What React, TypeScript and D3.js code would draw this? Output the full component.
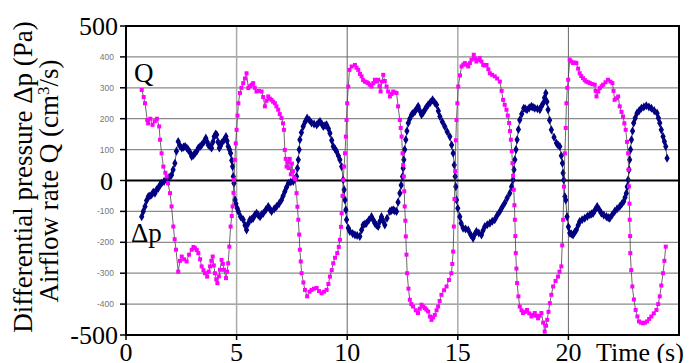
import React from 'react'
import * as d3 from 'd3'

// time (s), value
const qSeries: [number, number][] = [
  [0.71, 293], [0.8, 270], [0.86, 250], [0.96, 196], [1.0, 185], [1.1, 200], [1.2, 180], [1.3, 192], [1.4, 200], [1.5, 175],
  [1.54, 132], [1.61, 88], [1.69, 45], [1.78, 25], [1.84, 13], [1.9, -9], [1.99, -41], [2.06, -84], [2.14, -149], [2.2, -190],
  [2.26, -224], [2.36, -295], [2.44, -260], [2.52, -246], [2.63, -255], [2.74, -262], [2.85, -240], [2.97, -224], [3.05, -215],
  [3.12, -219], [3.2, -225], [3.27, -235], [3.35, -255], [3.42, -278], [3.5, -290], [3.57, -300], [3.67, -311], [3.74, -295],
  [3.8, -278], [3.86, -260], [3.92, -246], [3.97, -275], [4.02, -300], [4.08, -320], [4.13, -332], [4.2, -310], [4.25, -289],
  [4.32, -257], [4.38, -270], [4.43, -289], [4.52, -316], [4.57, -295], [4.62, -268], [4.67, -214], [4.73, -149], [4.78, -115],
  [4.82, -84], [4.86, -40], [4.88, 2], [4.92, 67], [4.96, 120], [5.0, 164], [5.04, 210], [5.08, 250], [5.15, 283], [5.22, 300],
  [5.3, 315], [5.38, 330], [5.45, 347], [5.53, 299], [5.6, 305], [5.68, 310], [5.75, 315], [5.82, 300], [5.9, 288], [6.0, 290],
  [6.13, 288], [6.2, 270], [6.28, 240], [6.35, 258], [6.43, 272], [6.5, 265], [6.58, 261], [6.65, 255], [6.73, 250], [6.8, 240],
  [6.88, 229], [6.95, 215], [7.03, 202], [7.1, 185], [7.14, 164], [7.18, 99], [7.22, 70], [7.26, 45], [7.3, 60], [7.35, 40],
  [7.4, 70], [7.45, 20], [7.5, 55], [7.55, 30], [7.6, 10], [7.65, 5], [7.71, -41], [7.75, -85], [7.79, -127], [7.83, -175],
  [7.86, -224], [7.9, -262], [7.94, -300], [8.02, -330], [8.09, -354], [8.19, -375], [8.3, -360], [8.39, -354], [8.5, -350],
  [8.62, -348], [8.73, -358], [8.84, -365], [8.95, -360], [9.07, -354], [9.15, -335], [9.22, -311], [9.3, -290], [9.37, -268],
  [9.45, -250], [9.55, -235], [9.62, -215], [9.67, -192], [9.72, -150], [9.75, -106], [9.79, -50], [9.82, 2], [9.86, 45],
  [9.9, 88], [9.94, 142], [9.97, 196], [10.0, 250], [10.05, 304], [10.1, 358], [10.2, 369], [10.35, 374], [10.42, 365],
  [10.5, 358], [10.58, 345], [10.65, 337], [10.72, 325], [10.8, 320], [10.88, 318], [10.95, 315], [11.02, 310], [11.1, 304],
  [11.18, 315], [11.25, 326], [11.32, 320], [11.4, 326], [11.46, 305], [11.51, 288], [11.57, 320], [11.63, 342], [11.7, 322],
  [11.78, 304], [11.85, 288], [11.93, 272], [12.0, 280], [12.08, 288], [12.15, 285], [12.23, 283], [12.3, 240], [12.38, 196],
  [12.42, 170], [12.46, 142], [12.5, 88], [12.53, 50], [12.56, 13], [12.58, -35], [12.6, -84], [12.63, -130], [12.65, -181],
  [12.68, -240], [12.71, -300], [12.77, -350], [12.83, -386], [12.9, -400], [12.98, -408], [13.1, -420], [13.2, -429],
  [13.28, -415], [13.36, -402], [13.44, -408], [13.51, -413], [13.58, -418], [13.66, -424], [13.74, -440], [13.81, -451],
  [13.88, -443], [13.96, -435], [14.04, -420], [14.11, -408], [14.18, -390], [14.26, -370], [14.38, -355], [14.49, -343],
  [14.6, -322], [14.71, -300], [14.75, -270], [14.79, -230], [14.82, -149], [14.85, -60], [14.88, 30], [14.91, 130],
  [14.94, 196], [14.98, 250], [15.02, 304], [15.1, 340], [15.17, 369], [15.25, 375], [15.32, 380], [15.4, 375], [15.47, 369],
  [15.55, 380], [15.62, 391], [15.72, 407], [15.78, 395], [15.84, 385], [15.92, 390], [15.99, 396], [16.07, 385], [16.15, 374],
  [16.22, 372], [16.3, 374], [16.38, 360], [16.45, 347], [16.55, 342], [16.67, 337], [16.78, 330], [16.9, 320], [16.98, 290],
  [17.05, 261], [17.12, 245], [17.2, 229], [17.26, 210], [17.32, 186], [17.36, 160], [17.4, 132], [17.44, 95], [17.47, 56],
  [17.5, 15], [17.53, -30], [17.56, -80], [17.58, -127], [17.6, -180], [17.62, -235], [17.65, -285], [17.68, -332],
  [17.74, -375], [17.8, -408], [17.88, -420], [17.95, -429], [18.05, -425], [18.13, -419], [18.23, -430], [18.33, -440],
  [18.4, -435], [18.48, -429], [18.55, -438], [18.63, -446], [18.7, -438], [18.78, -429], [18.86, -460], [18.93, -489],
  [18.99, -470], [19.04, -451], [19.1, -425], [19.16, -397], [19.23, -370], [19.31, -343], [19.42, -325], [19.53, -311],
  [19.6, -295], [19.68, -278], [19.72, -210], [19.76, -127], [19.8, -20], [19.84, 88], [19.88, 170], [19.91, 250],
  [19.95, 300], [19.99, 326], [20.06, 391], [20.13, 385], [20.21, 380], [20.28, 382], [20.36, 380], [20.44, 362], [20.51, 347],
  [20.58, 338], [20.66, 331], [20.74, 325], [20.81, 320], [20.9, 318], [20.97, 315], [21.08, 312], [21.19, 310], [21.23, 290],
  [21.27, 272], [21.35, 288], [21.42, 299], [21.5, 305], [21.57, 310], [21.68, 318], [21.79, 326], [21.9, 320], [21.99, 315],
  [22.04, 290], [22.09, 261], [22.17, 266], [22.25, 272], [22.32, 240], [22.4, 222], [22.47, 207], [22.53, 185], [22.59, 164],
  [22.65, 125], [22.7, 88], [22.72, 35], [22.74, -19], [22.76, -75], [22.77, -127], [22.79, -180], [22.8, -235], [22.84, -290],
  [22.89, -343], [22.96, -385], [23.04, -419], [23.12, -440], [23.19, -456], [23.28, -460], [23.37, -462], [23.46, -460],
  [23.56, -456], [23.65, -448], [23.75, -440], [23.86, -430], [23.98, -419], [24.06, -400], [24.13, -375], [24.2, -340],
  [24.28, -300], [24.34, -260], [24.4, -214],
]

const dpSeries: [number, number][] = [
  [0.71, -117], [0.78, -100], [0.86, -84], [0.93, -65], [1.01, -52], [1.08, -50], [1.16, -46], [1.23, -38], [1.31, -41],
  [1.38, -30], [1.46, -25], [1.53, -15], [1.61, -9], [1.72, -3], [1.84, 2], [1.95, 10], [2.06, 18], [2.13, 35], [2.21, 56],
  [2.28, 95], [2.36, 126], [2.44, 112], [2.52, 105], [2.6, 108], [2.67, 110], [2.75, 105], [2.82, 99], [2.9, 90], [2.97, 78],
  [3.05, 82], [3.12, 88], [3.2, 95], [3.27, 105], [3.35, 110], [3.42, 115], [3.52, 125], [3.61, 137], [3.67, 125], [3.72, 115],
  [3.8, 110], [3.87, 105], [3.93, 125], [3.99, 142], [4.05, 150], [4.1, 148], [4.16, 125], [4.22, 105], [4.27, 112],
  [4.32, 121], [4.42, 130], [4.52, 142], [4.57, 128], [4.62, 110], [4.68, 100], [4.73, 88], [4.78, 65], [4.82, 45], [4.85, 13],
  [4.88, -9], [4.93, -63], [4.97, -75], [5.03, -90], [5.08, -100], [5.18, -117], [5.3, -127], [5.38, -145], [5.45, -160],
  [5.52, -140], [5.6, -127], [5.68, -125], [5.75, -122], [5.82, -112], [5.9, -106], [5.98, -112], [6.06, -117], [6.13, -110],
  [6.21, -106], [6.32, -95], [6.43, -84], [6.5, -92], [6.58, -100], [6.7, -92], [6.81, -84], [6.92, -75], [7.03, -63],
  [7.1, -50], [7.18, -36], [7.26, -22], [7.34, -9], [7.45, -5], [7.56, -3], [7.64, 5], [7.71, 13], [7.75, 40], [7.79, 67],
  [7.83, 100], [7.86, 132], [7.93, 155], [8.01, 175], [8.1, 190], [8.19, 202], [8.29, 195], [8.39, 186], [8.5, 183],
  [8.62, 180], [8.7, 186], [8.77, 191], [8.85, 183], [8.92, 175], [9.0, 178], [9.07, 180], [9.15, 168], [9.22, 153],
  [9.3, 130], [9.37, 110], [9.45, 102], [9.52, 94], [9.6, 80], [9.67, 67], [9.75, 45], [9.82, 2], [9.86, -30], [9.9, -63],
  [9.94, -95], [9.97, -127], [10.05, -154], [10.12, -165], [10.25, -172], [10.35, -176], [10.45, -178], [10.57, -181],
  [10.65, -160], [10.72, -144], [10.8, -141], [10.87, -138], [10.98, -128], [11.1, -117], [11.18, -128], [11.25, -138],
  [11.32, -144], [11.4, -149], [11.48, -132], [11.55, -117], [11.62, -130], [11.7, -144], [11.8, -122], [11.93, -100],
  [12.0, -97], [12.08, -95], [12.15, -98], [12.23, -100], [12.3, -70], [12.38, -41], [12.44, -15], [12.5, 13], [12.53, 40],
  [12.56, 67], [12.6, 100], [12.65, 132], [12.7, 160], [12.76, 186], [12.83, 200], [12.91, 213], [12.98, 218], [13.06, 223],
  [13.14, 232], [13.21, 240], [13.28, 226], [13.36, 213], [13.44, 220], [13.51, 229], [13.58, 237], [13.66, 245],
  [13.76, 253], [13.86, 261], [13.95, 253], [14.04, 245], [14.12, 225], [14.19, 207], [14.3, 190], [14.41, 175], [14.52, 158],
  [14.64, 142], [14.72, 115], [14.79, 88], [14.84, 50], [14.88, 13], [14.91, -20], [14.94, -63], [15.0, -90], [15.09, -117],
  [15.15, -138], [15.24, -154], [15.35, -157], [15.47, -160], [15.58, -175], [15.69, -187], [15.76, -175], [15.84, -165],
  [15.95, -170], [16.07, -176], [16.14, -162], [16.22, -149], [16.33, -143], [16.45, -138], [16.56, -132], [16.67, -127],
  [16.78, -113], [16.9, -100], [17.01, -86], [17.12, -73], [17.23, -57], [17.35, -41], [17.43, -20], [17.5, 2], [17.54, 35],
  [17.58, 67], [17.63, 100], [17.68, 132], [17.74, 165], [17.8, 196], [17.89, 215], [17.98, 234], [18.05, 232], [18.13, 229],
  [18.23, 235], [18.33, 240], [18.4, 237], [18.48, 234], [18.6, 232], [18.71, 229], [18.78, 240], [18.86, 250], [18.92, 268],
  [18.98, 283], [19.03, 255], [19.08, 229], [19.15, 195], [19.23, 164], [19.35, 140], [19.46, 121], [19.53, 115], [19.61, 110],
  [19.68, 80], [19.73, 56], [19.76, 24], [19.79, 2], [19.84, -52], [19.88, -63], [19.94, -117], [20.0, -150], [20.06, -170],
  [20.13, -173], [20.21, -176], [20.28, -168], [20.36, -160], [20.44, -145], [20.51, -133], [20.62, -127], [20.74, -122],
  [20.86, -116], [20.97, -111], [21.05, -108], [21.12, -106], [21.21, -95], [21.3, -84], [21.4, -95], [21.49, -106],
  [21.6, -112], [21.72, -117], [21.8, -120], [21.87, -122], [21.98, -111], [22.09, -100], [22.2, -92], [22.32, -84],
  [22.41, -76], [22.5, -68], [22.56, -55], [22.62, -41], [22.66, -20], [22.7, 2], [22.74, 35], [22.77, 67], [22.81, 100],
  [22.85, 132], [22.9, 160], [22.95, 186], [23.02, 202], [23.1, 218], [23.2, 226], [23.3, 234], [23.41, 238], [23.52, 242],
  [23.64, 238], [23.75, 234], [23.88, 226], [24.01, 218], [24.07, 202], [24.13, 186], [24.2, 164], [24.28, 142], [24.34, 126],
  [24.4, 110], [24.46, 72],
]

const xTicks = [0, 5, 10, 15, 20]
const yTicks = [-500, -400, -300, -200, -100, 0, 100, 200, 300, 400, 500]
const bigYLabels = [-500, 0, 500]

const W = 689
const H = 363
const left = 126
const right = 679
const top = 26
const bottom = 335

const serif = '"Liberation Serif", "Times New Roman", serif'

export default function App() {
  const x = d3.scaleLinear().domain([0, 25]).range([left, right])
  const y = d3.scaleLinear().domain([-500, 500]).range([bottom, top])

  const lineGen = d3.line<[number, number]>().x(d => x(d[0])).y(d => y(d[1]))
  const diamond = d3.symbol().type(d3.symbolDiamond).size(13)()

  return (
    <svg width={W} height={H} style={{ position: 'absolute', left: 0, top: 0, background: '#fff' }}>
      {/* grid */}
      {yTicks.filter(v => v !== 0 && Math.abs(v) !== 500).map(v => (
        <line key={'gy' + v} x1={left} x2={right} y1={y(v)} y2={y(v)} stroke="#8a8a8a" strokeWidth={1.2} />
      ))}
      {xTicks.filter(t => t > 0).map(t => (
        <line key={'gx' + t} x1={x(t)} x2={x(t)} y1={top} y2={bottom} stroke={t % 10 === 0 ? '#666' : '#aaa'} strokeWidth={t % 10 === 0 ? 1 : 1.5} />
      ))}
      <line x1={left} x2={right} y1={y(0)} y2={y(0)} stroke="#000" strokeWidth={2} />

      {/* series */}
      <path d={lineGen(dpSeries) || ''} fill="none" stroke="#333" strokeWidth={0.8} />
      {dpSeries.map((d, i) => (
        <path key={'dp' + i} d={diamond || ''} transform={`translate(${x(d[0])},${y(d[1])})`} fill="#000080" stroke="#000080" strokeWidth={1.2} />
      ))}
      <path d={lineGen(qSeries) || ''} fill="none" stroke="#444" strokeWidth={0.8} />
      {qSeries.map((d, i) => (
        <rect key={'q' + i} x={x(d[0]) - 2} y={y(d[1]) - 2} width={4} height={4} fill="#ff00ff" />
      ))}

      {/* frame */}
      <rect x={left} y={top} width={right - left} height={bottom - top} fill="none" stroke="#000" strokeWidth={2} />

      {/* y ticks */}
      {yTicks.map(v => (
        <line key={'ty' + v} x1={left - 6} x2={left} y1={y(v)} y2={y(v)} stroke="#000" strokeWidth={1.5} />
      ))}
      {yTicks.filter(v => bigYLabels.indexOf(v) < 0).map(v => (
        <text key={'ly' + v} x={left - 12} y={y(v) + 3} textAnchor="end" fontFamily="Arial, 'Liberation Sans', sans-serif" fontSize={8.5} fill="#777">{v}</text>
      ))}
      {bigYLabels.map(v => (
        <text key={'by' + v} x={v === 0 ? 113 : 118} y={y(v) + 9} textAnchor="end" fontFamily={serif} fontSize={26} fill="#000">{v}</text>
      ))}

      {/* x ticks */}
      {xTicks.map(t => (
        <g key={'tx' + t}>
          <line x1={x(t)} x2={x(t)} y1={bottom} y2={bottom + 5} stroke="#000" strokeWidth={1.5} />
          <text x={x(t)} y={361} textAnchor="middle" fontFamily={serif} fontSize={26} fill="#000">{t}</text>
        </g>
      ))}
      <text x={596} y={361} fontFamily={serif} fontSize={26} fill="#000">Time (s)</text>

      {/* axis titles */}
      <text transform="translate(32,177) rotate(-90)" textAnchor="middle" fontFamily={serif} fontSize={27} fill="#000">Differential pressure Δp (Pa)</text>
      <text transform="translate(58,181) rotate(-90)" textAnchor="middle" fontFamily={serif} fontSize={27} fill="#000">
        Airflow rate Q (cm<tspan baselineShift="super" fontSize={17}>3</tspan>/s)
      </text>

      {/* series labels */}
      <text x={134} y={82} fontFamily={serif} fontSize={27} fill="#000">Q</text>
      <text x={131} y={242} fontFamily={serif} fontSize={27} fill="#000">Δp</text>
    </svg>
  )
}
